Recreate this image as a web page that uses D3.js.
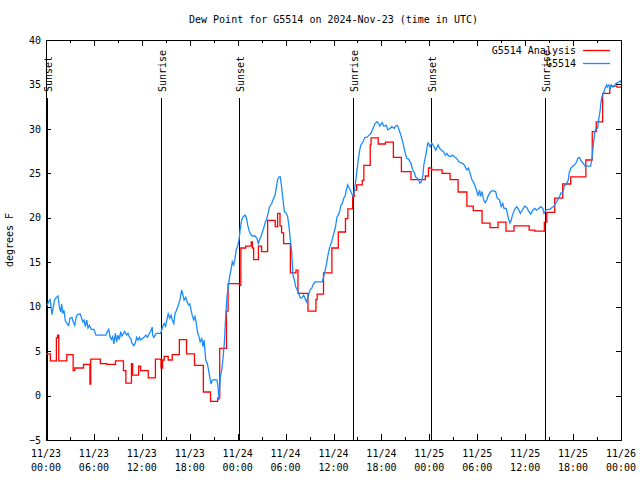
<!DOCTYPE html>
<html><head><meta charset="utf-8">
<script src="https://cdn.jsdelivr.net/npm/d3@7"></script>
<style>
body{margin:0;background:#fff}
text{font-family:"DejaVu Sans Mono","Liberation Mono",monospace;font-size:10px;fill:#000}
</style>
</head><body>
<svg id="chart" width="640" height="480"></svg>
<script>
// ---------- data ----------
const chartTitle = "Dew Point for G5514 on 2024-Nov-23 (time in UTC)";
const yAxisLabel = "degrees F";
const yTickValues = [-5, 0, 5, 10, 15, 20, 25, 30, 35, 40];
const xTickHours = [0, 6, 12, 18, 24, 30, 36, 42, 48, 54, 60, 66, 72];
const xTickDates = ["11/23","11/23","11/23","11/23","11/24","11/24","11/24","11/24","11/25","11/25","11/25","11/25","11/26"];
const xTickTimes = ["00:00","06:00","12:00","18:00","00:00","06:00","12:00","18:00","00:00","06:00","12:00","18:00","00:00"];
const sunHours = [0.12, 14.45, 24.15, 38.47, 48.2, 62.43];
const sunLabels = ["Sunset", "Sunrise", "Sunset", "Sunrise", "Sunset", "Sunrise"];
const seriesNames = ["G5514 Analysis", "G5514"];

// Analysis (step series): hours since 2024-11-23 00:00 UTC where value changes
const analysisHours = [0,0.55,1.3,1.45,1.6,2.6,3.4,3.6,4.7,5.5,5.6,6.8,7.6,8.7,9.7,10.0,10.7,10.85,11.6,11.85,12.8,13.7,14.4,14.6,14.8,15.3,15.8,16.7,17.6,18.6,19.7,20.6,21.5,21.75,22.6,22.8,24.2,24.4,25.0,25.7,25.85,26.0,26.6,27.0,27.75,28.7,29.0,29.3,29.5,29.75,30.6,31.3,31.55,32.8,33.8,33.95,34.75,35.8,36.6,37.5,37.8,38.4,38.6,38.9,39.6,39.8,40.6,40.7,41.6,42.5,43.5,44.5,45.7,47.5,47.9,48.3,49.6,50.6,51.6,52.7,53.5,54.6,55.6,56.6,57.6,58.6,60.5,61.2,62.4,62.7,63.7,64.7,65.7,67.6,68.4,68.9,69.7,70.6,71.5,72];
const analysisValues = [4.7,3.9,6.5,6.8,3.9,4.6,2.8,3.1,3.5,1.3,4.1,3.6,3.5,3.9,2.8,1.4,3.6,2.3,3.3,2.8,2.0,4.1,3.1,4.0,4.4,4.0,4.6,6.3,4.7,3.4,0.4,-0.65,-0.3,5.3,9.5,12.6,12.4,16.6,16.8,17.3,16.6,15.3,16.8,16.2,19.7,19.0,20.5,19.1,18.3,17.1,13.8,14.1,11.5,9.5,10.8,11.4,13.8,16.6,18.4,19.9,21.0,22.4,23.1,23.7,24.2,25.9,28.2,29.0,28.3,28.5,26.8,25.2,24.3,24.7,25.6,25.4,25.0,24.3,22.9,21.3,20.8,19.4,18.9,19.5,18.5,19.1,18.6,18.5,19.5,20.6,22.2,23.8,24.6,26.5,29.7,30.8,34.0,34.8,34.7,34.7];

// Observations
const obsHours = [0.05,0.17,0.33,0.5,0.58,0.75,0.92,1.08,1.3,1.5,1.67,1.84,1.96,2.1,2.25,2.42,2.67,2.84,3.0,3.25,3.4,3.6,3.75,3.9,4.26,4.43,4.6,4.76,4.93,5.1,5.26,5.43,5.68,6.0,6.26,6.85,7.5,7.68,7.85,8.0,8.18,8.35,8.5,8.68,8.85,9.0,9.18,9.35,9.5,9.7,9.85,10.1,10.27,10.44,10.6,10.77,11.0,11.2,11.35,11.52,11.7,11.85,12.1,12.35,12.5,12.7,12.94,13.1,13.3,13.35,13.5,13.8,14.35,14.6,14.8,14.98,15.15,15.3,15.5,15.65,15.82,16.0,16.15,16.32,16.5,16.65,16.8,16.99,17.15,17.3,17.5,17.65,17.83,18.0,18.15,18.3,18.5,18.65,18.8,19.0,19.16,19.3,19.5,19.66,19.8,20.0,20.2,20.35,20.5,20.66,20.83,21.2,21.4,21.5,21.58,21.66,21.83,22.0,22.15,22.33,22.5,22.66,22.83,23.0,23.16,23.33,23.5,23.66,23.83,24.0,24.17,24.33,24.5,24.67,24.92,25.08,25.25,25.42,25.58,25.83,26.17,26.42,26.59,26.75,26.92,27.09,27.25,27.42,27.59,27.76,28.0,28.26,28.51,28.68,28.84,29.0,29.18,29.34,29.5,29.68,29.85,30.1,30.26,30.43,30.6,30.76,30.93,31.1,31.26,31.43,31.6,31.77,31.93,32.1,32.26,32.43,32.6,32.76,32.93,33.1,33.27,33.44,33.69,34.6,34.77,34.93,35.1,35.27,35.44,35.6,35.77,35.94,36.1,36.27,36.44,36.6,36.77,36.94,37.1,37.28,37.44,37.6,37.77,37.94,38.1,38.27,38.44,38.6,38.77,38.95,39.1,39.28,39.44,39.7,39.94,40.2,40.45,40.7,40.94,41.2,41.45,41.66,41.8,42.1,42.3,42.6,42.8,43.07,43.3,43.6,43.75,44.0,44.2,44.5,44.7,44.99,45.16,45.4,45.7,45.9,46.16,46.3,46.5,46.66,46.8,47.0,47.2,47.3,47.6,47.8,47.9,48.08,48.3,48.59,48.8,49.1,49.3,49.59,49.75,50.0,50.2,50.4,50.67,50.9,51.2,51.4,51.7,51.9,52.2,52.4,52.7,52.9,53.1,53.35,53.6,53.9,54.1,54.3,54.4,54.6,54.8,55.0,55.2,55.4,55.7,55.9,56.3,56.5,56.8,57.0,57.2,57.35,57.6,57.77,57.9,58.1,58.27,58.4,58.7,58.94,59.2,59.4,59.7,59.94,60.2,60.4,60.7,60.94,61.2,61.44,61.7,61.95,62.2,62.36,62.6,62.85,63.1,63.37,63.6,63.85,64.1,64.3,64.5,64.7,64.9,65.1,65.4,65.5,65.7,65.9,66.2,66.45,66.6,66.8,66.95,67.2,67.5,68.2,68.4,68.57,68.74,68.9,69.07,69.2,69.4,69.5,69.6,69.8,69.99,70.2,70.3,70.5,70.67,70.8,71.0,71.2,71.3,71.58,71.9,72.0];
const obsValues = [10.2,10.2,10.6,10.8,10.4,9.1,10.0,10.75,11.05,11.2,10.0,9.4,10.3,9.25,9.6,8.4,8.05,7.9,8.7,8.8,8.3,7.9,8.7,9.1,9.2,8.8,8.3,8.5,7.75,8.5,7.6,7.9,7.45,7.45,6.8,6.8,6.8,7.2,7.45,6.7,6.3,6.6,5.8,7.0,6.05,6.8,6.3,7.2,6.7,7.0,7.2,6.8,7.0,6.6,6.45,5.9,5.6,5.95,6.55,6.25,6.55,6.25,6.45,6.6,6.8,6.55,7.0,7.2,7.7,6.8,6.55,7.0,7.0,7.7,8.1,7.8,8.6,9.2,8.7,9.05,8.5,8.1,9.2,9.55,10.0,10.4,10.9,11.9,11.3,10.75,11.05,10.6,10.2,10.3,9.7,9.05,8.5,8.9,8.2,7.0,6.6,6.05,6.4,5.5,6.25,4.0,3.6,2.9,2.1,1.3,1.75,1.8,1.75,1.3,0.6,-0.5,2.1,2.9,4.0,5.9,8.9,11.1,12.25,13.4,14.1,15.05,14.7,15.4,16.4,16.8,17.5,18.8,19.75,20.1,20.3,20.05,19.2,18.6,18.2,17.95,17.95,17.7,17.1,17.55,17.9,18.4,18.8,19.4,19.75,20.3,21.25,21.6,22.2,22.55,23.4,24.25,24.6,24.6,23.5,22.0,20.7,20.5,20.1,19.0,17.5,16.2,13.55,13.0,12.25,11.9,11.7,11.1,10.95,11.05,11.3,10.95,10.55,10.95,11.5,11.95,12.05,12.45,12.8,12.8,13.4,13.95,14.7,15.6,16.4,16.9,17.3,17.9,18.45,19.1,20.1,20.3,20.7,21.45,21.6,22.2,22.4,23.1,23.7,23.4,23.1,22.75,22.4,22.95,24.05,25.4,26.5,27.6,28.2,28.55,29.05,29.05,29.3,29.5,30.05,30.6,30.8,30.6,30.3,30.7,30.3,30.4,29.9,30.05,30.25,30.05,30.3,30.4,29.9,29.1,28.4,27.25,26.7,26.6,26.1,25.4,25.0,24.55,24.45,24.3,23.9,24.05,24.8,25.9,27.25,28.4,28.4,28.0,28.4,28.0,27.6,28.2,27.8,27.55,27.45,27.05,27.25,26.95,26.9,27.05,26.8,26.7,26.3,26.2,26.1,25.9,25.4,25.6,25.0,24.25,23.9,23.1,22.55,23.1,22.4,22.95,22.0,21.7,22.0,22.55,22.95,23.05,22.95,22.2,22.0,21.25,21.6,21.05,21.05,20.5,19.95,19.4,19.75,20.3,20.95,21.25,20.9,20.5,20.95,21.3,21.15,20.8,20.4,20.85,21.05,20.85,21.05,21.25,21.05,20.5,20.85,20.95,20.95,21.15,21.3,21.7,22.0,22.4,22.8,22.75,23.6,23.7,24.25,25.0,25.55,25.75,25.95,26.3,26.7,26.8,26.5,26.2,25.8,25.8,26.9,28.55,29.7,30.05,30.05,31.0,32.1,33.05,33.6,34.0,34.55,34.95,34.7,34.95,34.55,34.95,34.7,34.85,35.05,35.2,35.4,35.2];

// ---------- drawing ----------
const svg = d3.select("#chart");
const L = 46, R = 621, T = 40, B = 440;
const start = Date.UTC(2024, 10, 23, 0, 0);
const toDate = h => new Date(start + h * 3600e3);
const x = d3.scaleUtc().domain([toDate(0), toDate(72)]).range([L, R]);
const y = d3.scaleLinear().domain([-5, 40]).range([B, T]);

svg.append("rect").attr("width", 640).attr("height", 480).attr("fill", "#fff");

svg.append("defs").append("clipPath").attr("id", "clip")
  .append("rect").attr("x", L).attr("y", T).attr("width", R - L).attr("height", B - T);

// title
svg.append("text").attr("x", (L + R) / 2).attr("y", 19).attr("dy", "0.35em")
  .attr("text-anchor", "middle").text(chartTitle);

// y label
svg.append("text").attr("transform", `translate(13,${(T + B) / 2}) rotate(-90)`)
  .attr("text-anchor", "middle").text(yAxisLabel);

// axes via d3 axes (ticks inward)
const yLeft = d3.axisLeft(y).tickValues(yTickValues).tickSize(-5).tickPadding(10).tickFormat(d3.format("d"));
const gl = svg.append("g").attr("transform", `translate(${L},0)`).call(yLeft);
const yRight = d3.axisRight(y).tickValues(yTickValues).tickSize(-5).tickFormat("");
const gr = svg.append("g").attr("transform", `translate(${R},0)`).call(yRight);

const minorHours = d3.range(0, 73, 3);
const xBotMinor = d3.axisBottom(x).tickValues(minorHours.map(toDate)).tickSize(-3).tickFormat("");
const xTopMinor = d3.axisTop(x).tickValues(minorHours.map(toDate)).tickSize(-3).tickFormat("");
const xBot = d3.axisBottom(x).tickValues(xTickHours.map(toDate)).tickSize(-6).tickFormat("");
const xTop = d3.axisTop(x).tickValues(xTickHours.map(toDate)).tickSize(-6).tickFormat("");
const gb = svg.append("g").attr("transform", `translate(0,${B})`).call(xBotMinor);
const gb2 = svg.append("g").attr("transform", `translate(0,${B})`).call(xBot);
const gt = svg.append("g").attr("transform", `translate(0,${T})`).call(xTopMinor);
const gt2 = svg.append("g").attr("transform", `translate(0,${T})`).call(xTop);
[gl, gr, gb, gb2, gt, gt2].forEach(g => {
  g.select(".domain").remove();
  g.selectAll("line").attr("stroke", "#000").attr("shape-rendering", "crispEdges");
  g.selectAll("text").style("font-family", "'DejaVu Sans Mono',monospace").style("font-size", "10px").attr("fill", "#000");
});
gl.selectAll("text").attr("x", -5);

// x labels (two lines)
const xl = svg.append("g");
xTickHours.forEach((h, i) => {
  const t = xl.append("text").attr("x", x(toDate(h))).attr("text-anchor", "middle");
  t.append("tspan").attr("x", x(toDate(h))).attr("y", 457).text(xTickDates[i]);
  t.append("tspan").attr("x", x(toDate(h))).attr("y", 471).text(xTickTimes[i]);
});

// frame
svg.append("rect").attr("x", L + 0.5).attr("y", T + 0.5).attr("width", R - L).attr("height", B - T)
  .attr("fill", "none").attr("stroke", "#000").attr("stroke-width", 1);

// sunrise/sunset
const sg = svg.append("g");
sunHours.forEach((h, i) => {
  const sx = Math.round(x(toDate(h))) + 0.5;
  sg.append("line").attr("x1", sx).attr("x2", sx).attr("y1", 98).attr("y2", B)
    .attr("stroke", "#000").attr("stroke-width", 1).attr("shape-rendering", "crispEdges");
  sg.append("text").attr("transform", `translate(${sx + 4.5},92) rotate(-90)`)
    .attr("text-anchor", "start").text(sunLabels[i]);
});

// series
const plot = svg.append("g").attr("clip-path", "url(#clip)");
const redData = analysisHours.map((h, i) => ({ t: toDate(h), v: analysisValues[i] }));
const blueData = obsHours.map((h, i) => ({ t: toDate(h), v: obsValues[i] }));
plot.append("path").datum(redData)
  .attr("d", d3.line().x(d => x(d.t)).y(d => y(d.v)).curve(d3.curveStepAfter))
  .attr("fill", "none").attr("stroke", "#ff0000").attr("stroke-width", 1.3);
plot.append("path").datum(blueData)
  .attr("d", d3.line().x(d => x(d.t)).y(d => y(d.v)))
  .attr("fill", "none").attr("stroke", "#1a8cff").attr("stroke-width", 1.3);

// legend
const legColors = ["#ff0000", "#1a8cff"];
seriesNames.forEach((n, i) => {
  const ly = 50 + i * 13;
  svg.append("text").attr("x", 576).attr("y", ly).attr("dy", "0.35em").attr("text-anchor", "end").text(n);
  svg.append("line").attr("x1", 583).attr("x2", 610).attr("y1", ly + 0.5).attr("y2", ly + 0.5)
    .attr("stroke", legColors[i]).attr("stroke-width", 1.3);
});
</script>
</body></html>
